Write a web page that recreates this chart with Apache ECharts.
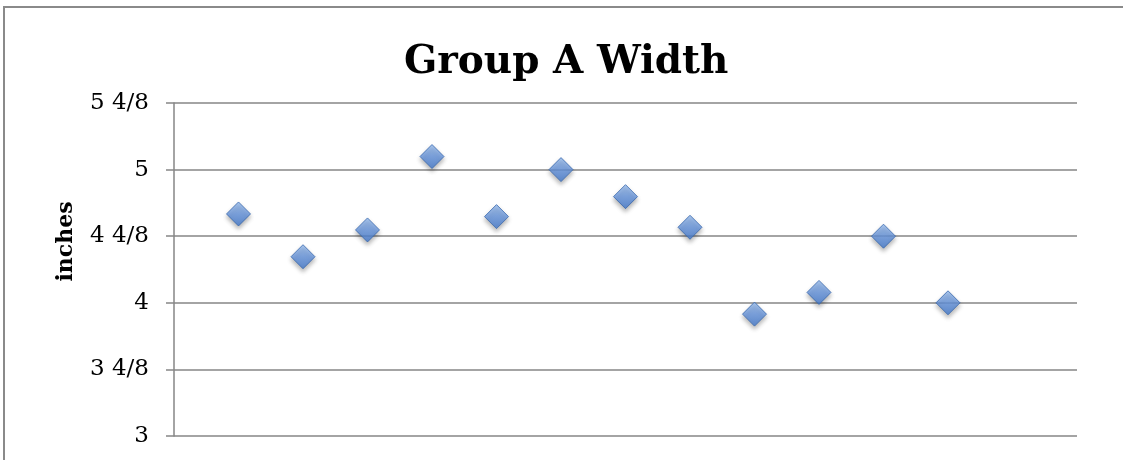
<!DOCTYPE html>
<html>
<head>
<meta charset="utf-8">
<script src="https://cdn.jsdelivr.net/npm/echarts@6/dist/echarts.min.js"></script>
<style>
  html, body { margin: 0; padding: 0; background: #fff; }
  #chart { width: 1123px; height: 460px; }
</style>
</head>
<body>
<div id="chart"></div>
<script>
// Sample index (x) and measured width in inches (y)
const sampleIndex = [1, 2, 3, 4, 5, 6, 7, 8, 9, 10, 11, 12];
const widthInches = [4.667, 4.346, 4.547, 5.098, 4.647, 5.0, 4.797, 4.567, 3.915, 4.078, 4.5, 4.0];
// Y tick labels written as eighths of an inch
const tickValues = [3, 3.5, 4, 4.5, 5, 5.5];
const tickLabels = ['3', '3 4/8', '4', '4 4/8', '5', '5 4/8'];

const chart = echarts.init(document.getElementById('chart'));
const serif = '"DejaVu Serif", "Liberation Serif", serif';

chart.setOption({
  backgroundColor: '#ffffff',
  animation: false,
  title: {
    text: 'Group A Width',
    left: 399,
    top: 38,
    textStyle: { fontFamily: serif, fontWeight: 'bold', fontSize: 39, color: '#000' }
  },
  graphic: [{
    type: 'rect',
    shape: { x: 4, y: 7, width: 1200, height: 600 },
    style: { fill: 'none', stroke: '#8a8a8a', lineWidth: 2 },
    silent: true
  }],
  grid: { left: 174, right: 46, top: 103, bottom: 24 },
  xAxis: {
    type: 'value',
    min: 0,
    max: 14,
    interval: 1,
    axisLine: { show: false },
    axisTick: { show: false },
    axisLabel: { show: false },
    splitLine: { show: false }
  },
  yAxis: {
    type: 'value',
    min: 3,
    max: 5.5,
    interval: 0.5,
    name: 'inches',
    nameLocation: 'middle',
    nameGap: 97,
    nameRotate: 90,
    nameTextStyle: {
      fontFamily: serif, fontWeight: 'bold', fontSize: 22, color: '#000',
      padding: [0, 0, 0, 56]
    },
    axisLine: { show: true, lineStyle: { color: '#868686', width: 1.5 } },
    axisTick: { show: true, length: 8, lineStyle: { color: '#868686', width: 1.5 } },
    axisLabel: {
      fontFamily: serif,
      fontSize: 23,
      color: '#000',
      margin: 25,
      formatter: function (v) {
        const i = tickValues.findIndex(t => Math.abs(t - v) < 1e-6);
        return i >= 0 ? tickLabels[i] : '';
      }
    },
    splitLine: { show: true, lineStyle: { color: '#868686', width: 1.5 } }
  },
  series: [{
    type: 'scatter',
    symbol: 'diamond',
    symbolSize: 24,
    data: sampleIndex.map((x, i) => [x, widthInches[i]]),
    itemStyle: {
      color: new echarts.graphic.LinearGradient(0, 0, 0, 1, [
        { offset: 0, color: '#98bdee' },
        { offset: 0.5, color: '#6897e0' },
        { offset: 1, color: '#4279cd' }
      ]),
      borderColor: '#3868ae',
      borderWidth: 1,
      shadowColor: 'rgba(0,0,0,0.35)',
      shadowBlur: 4,
      shadowOffsetY: 3
    }
  }]
});
</script>
</body>
</html>
